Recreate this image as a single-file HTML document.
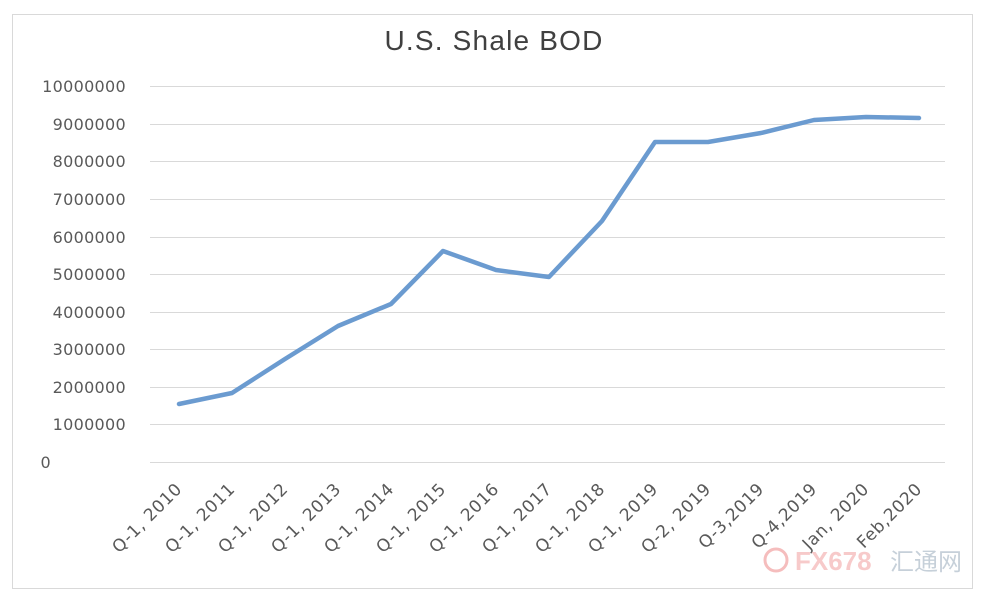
<!DOCTYPE html>
<html><head><style>
body{margin:0;background:#fff;}
svg{display:block;font-family:"DejaVu Sans","Liberation Sans",sans-serif;}
</style></head><body>
<svg width="984" height="596" viewBox="0 0 984 596">
<rect x="12.5" y="14.5" width="960" height="574" fill="#fff" stroke="#d9d9d9"/>
<text x="494" y="50" font-size="28" fill="#404040" text-anchor="middle" font-family="Liberation Sans,sans-serif" letter-spacing="1.2">U.S. Shale BOD</text>
<g stroke="#d9d9d9" stroke-width="1">
<line x1="150" x2="945" y1="86.5" y2="86.5"/><line x1="150" x2="945" y1="124.5" y2="124.5"/>
<line x1="150" x2="945" y1="161.5" y2="161.5"/><line x1="150" x2="945" y1="199.5" y2="199.5"/>
<line x1="150" x2="945" y1="237.5" y2="237.5"/><line x1="150" x2="945" y1="274.5" y2="274.5"/>
<line x1="150" x2="945" y1="312.5" y2="312.5"/><line x1="150" x2="945" y1="349.5" y2="349.5"/>
<line x1="150" x2="945" y1="387.5" y2="387.5"/><line x1="150" x2="945" y1="424.5" y2="424.5"/>
<line x1="150" x2="945" y1="462.5" y2="462.5"/>
</g>
<g font-size="16" fill="#595959" text-anchor="end" letter-spacing="0.3">
<text x="126" y="92">10000000</text><text x="126" y="130">9000000</text>
<text x="126" y="167">8000000</text><text x="126" y="205">7000000</text>
<text x="126" y="243">6000000</text><text x="126" y="280">5000000</text>
<text x="126" y="318">4000000</text><text x="126" y="355">3000000</text>
<text x="126" y="393">2000000</text><text x="126" y="430">1000000</text>
<text x="51" y="468">0</text>
</g>
<polyline fill="none" stroke="#6b9bd0" stroke-width="4.5" stroke-linejoin="round" stroke-linecap="round"
points="179,404 232,393 285,359 338,326 391,304 443,251 496,270 549,277 602,221 655,142 708,142 761,133 814,120 866,117 919,118"/>
<g font-size="17" fill="#595959" text-anchor="end" letter-spacing="0.6">
<text transform="translate(183,490) rotate(-45)">Q-1, 2010</text>
<text transform="translate(236,490) rotate(-45)">Q-1, 2011</text>
<text transform="translate(289,490) rotate(-45)">Q-1, 2012</text>
<text transform="translate(342,490) rotate(-45)">Q-1, 2013</text>
<text transform="translate(395,490) rotate(-45)">Q-1, 2014</text>
<text transform="translate(447,490) rotate(-45)">Q-1, 2015</text>
<text transform="translate(500,490) rotate(-45)">Q-1, 2016</text>
<text transform="translate(553,490) rotate(-45)">Q-1, 2017</text>
<text transform="translate(606,490) rotate(-45)">Q-1, 2018</text>
<text transform="translate(659,490) rotate(-45)">Q-1, 2019</text>
<text transform="translate(712,490) rotate(-45)">Q-2, 2019</text>
<text transform="translate(765,490) rotate(-45)">Q-3,2019</text>
<text transform="translate(818,490) rotate(-45)">Q-4,2019</text>
<text transform="translate(870,490) rotate(-45)">Jan, 2020</text>
<text transform="translate(923,490) rotate(-45)">Feb,2020</text>
</g>
<g opacity="0.55">
<circle cx="776" cy="560" r="11" fill="none" stroke="#e88" stroke-width="3"/>
<text x="795" y="570" font-size="26" fill="#f2a0a0" font-weight="bold" font-family="Liberation Sans,sans-serif">FX678</text>
<text x="890" y="570" font-size="24" fill="#9ab" font-family="'Noto Sans CJK SC',sans-serif">汇通网</text>
</g>
</svg>
</body></html>
